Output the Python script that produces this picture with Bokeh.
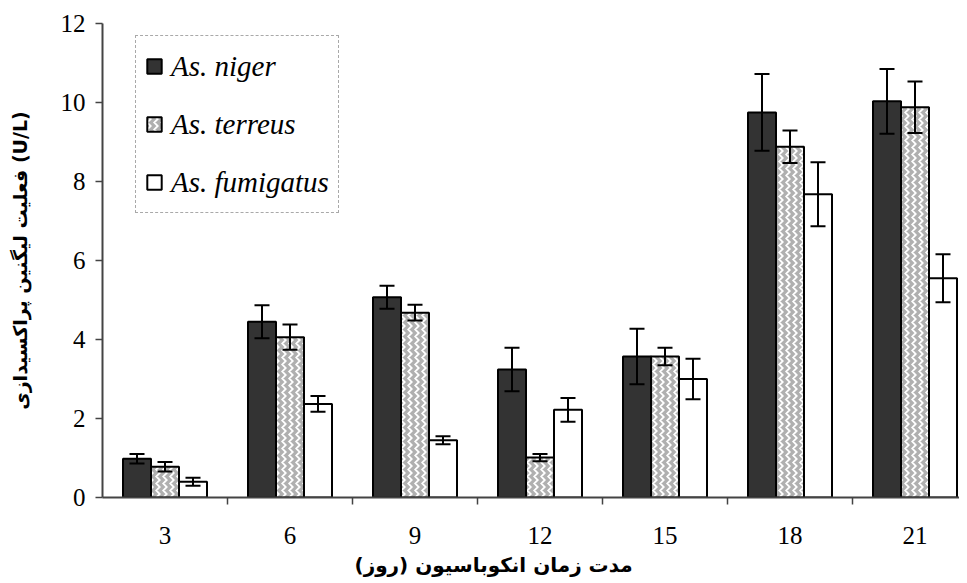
from bokeh.plotting import figure
from bokeh.models import (Range1d, FixedTicker, Whisker, ColumnDataSource, Legend,
                          LegendItem, Title, TeeHead)
from bokeh.embed import file_html
from bokeh.resources import INLINE

days = ["3", "6", "9", "12", "15", "18", "21"]
niger = [0.98, 4.45, 5.07, 3.24, 3.57, 9.75, 10.03]
niger_err = [0.12, 0.42, 0.29, 0.55, 0.70, 0.97, 0.82]
terreus = [0.78, 4.06, 4.68, 1.01, 3.57, 8.88, 9.88]
terreus_err = [0.12, 0.32, 0.20, 0.09, 0.22, 0.41, 0.65]
fumigatus = [0.40, 2.37, 1.45, 2.22, 3.00, 7.68, 5.55]
fumigatus_err = [0.10, 0.20, 0.10, 0.30, 0.51, 0.81, 0.61]

names = ["As. niger", "As. terreus", "As. fumigatus"]
xlabel = "مدت زمان انکوباسیون (روز)"
ylabel = "فعلیت لیگنین پراکسیدازی (U/L)"

SERIF = "Liberation Serif"
ARAB = "DejaVu Sans"

p = figure(width=959, height=583, output_backend="svg", toolbar_location=None,
           x_range=Range1d(0, 6.856), y_range=Range1d(0, 12),
           min_border_left=102, min_border_right=0, min_border_top=23,
           min_border_bottom=86)
p.outline_line_color = None
p.xgrid.visible = False
p.ygrid.visible = False
p.background_fill_color = "white"

centers = [i + 0.5 for i in range(len(days))]
bw = 0.224
offsets = [-bw, 0.0, bw]
series = [niger, terreus, fumigatus]
errs = [niger_err, terreus_err, fumigatus_err]
styles = [
    dict(fill_color="#333333"),
    dict(fill_color="#b0b0b0", hatch_pattern="vertical_wave", hatch_color="white",
         hatch_scale=7, hatch_weight=1.8),
    dict(fill_color="white"),
]

renderers = []
for vals, er, off, st in zip(series, errs, offsets, styles):
    xs = [c + off for c in centers]
    src = ColumnDataSource(dict(x=xs, top=vals,
                                upper=[v + e for v, e in zip(vals, er)],
                                lower=[v - e for v, e in zip(vals, er)]))
    r = p.vbar(x="x", top="top", bottom=0, width=bw, source=src,
               line_color="black", line_width=2, **st)
    renderers.append(r)
    w = Whisker(base="x", upper="upper", lower="lower", source=src, level="overlay",
                line_color="black", line_width=2,
                upper_head=TeeHead(size=15, line_width=2, line_color="black"),
                lower_head=TeeHead(size=15, line_width=2, line_color="black"))
    p.add_layout(w)

# axes
p.xaxis.ticker = FixedTicker(ticks=centers, minor_ticks=[1, 2, 3, 4, 5, 6])
p.xaxis.major_label_overrides = {c: d for c, d in zip(centers, days)}
p.xaxis.major_tick_out = 0
p.xaxis.major_tick_in = 0
p.xaxis.minor_tick_out = 7
p.xaxis.minor_tick_in = 0
p.xaxis.minor_tick_line_width = 1.5
p.xaxis.axis_line_width = 2
p.xaxis.axis_line_color = "#444444"
p.xaxis.minor_tick_line_color = "#444444"
p.xaxis.major_label_text_font = SERIF
p.xaxis.major_label_text_font_size = "25px"
p.xaxis.major_label_text_color = "black"
p.xaxis.major_label_standoff = 22

p.yaxis.ticker = FixedTicker(ticks=[0, 2, 4, 6, 8, 10, 12])
p.yaxis.major_tick_out = 7
p.yaxis.major_tick_in = 0
p.yaxis.minor_tick_out = 0
p.yaxis.minor_tick_in = 0
p.yaxis.axis_line_width = 2
p.yaxis.axis_line_color = "#444444"
p.yaxis.major_tick_line_color = "#444444"
p.yaxis.major_tick_line_width = 1.5
p.yaxis.major_label_text_font = SERIF
p.yaxis.major_label_text_font_size = "25px"
p.yaxis.major_label_text_color = "black"
p.yaxis.major_label_standoff = 10
p.yaxis.axis_label = ylabel
p.yaxis.axis_label_text_font = ARAB
p.yaxis.axis_label_text_font_style = "bold"
p.yaxis.axis_label_text_font_size = "19px"
p.yaxis.axis_label_text_color = "black"
p.yaxis.axis_label_standoff = 27

p.add_layout(Title(text=xlabel, align="left", offset=252, text_font=ARAB,
                   text_font_style="bold", text_font_size="20px",
                   text_color="black", standoff=8), "below")

legend = Legend(items=[LegendItem(label=n, renderers=[r]) for n, r in zip(names, renderers)],
                location=(33, 284), orientation="vertical",
                glyph_width=18, glyph_height=18, label_height=42, spacing=16,
                padding=9, margin=0, label_standoff=8,
                label_text_font=SERIF, label_text_font_style="italic",
                label_text_font_size="29px", label_text_color="black",
                border_line_color="#555555", border_line_dash="5 3",
                border_line_width=1, background_fill_color="white",
                background_fill_alpha=1.0)
p.add_layout(legend)

open("out.html", "w").write(file_html(p, INLINE))
